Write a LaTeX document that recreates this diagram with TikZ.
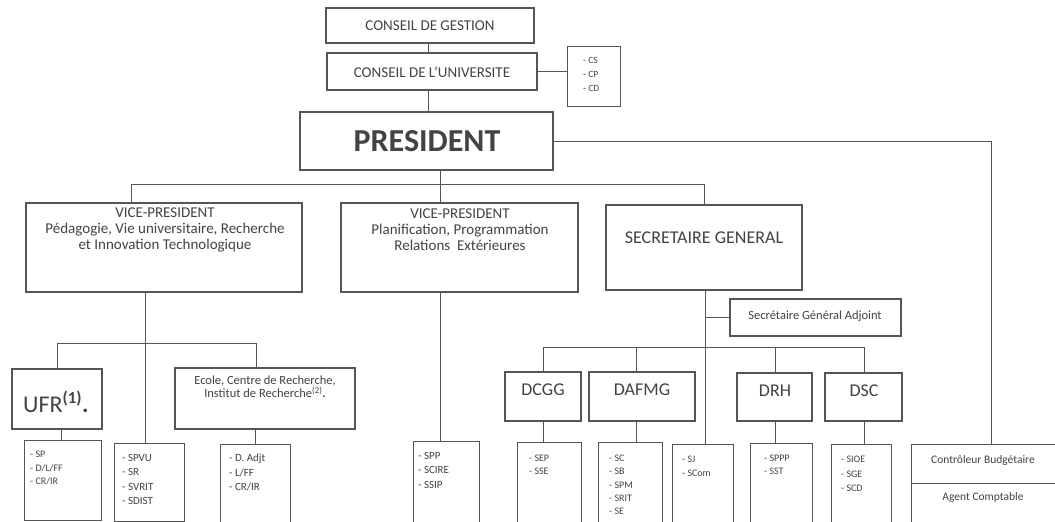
\documentclass[tikz,border=0pt]{standalone}
\usepackage{fontspec}
\setmainfont{Carlito}
\usetikzlibrary{fit}
\definecolor{ink}{HTML}{434343}
\definecolor{ln}{HTML}{555555}
\newcommand\fsz[2]{\fontsize{#1}{#2}\selectfont}
\newcommand\bx[6][box]{\node[#1,fit={(#3,#4) (#5,#6)}] (#2) {};}
\begin{document}
\begin{tikzpicture}[x=1pt,y=-1pt,
  box/.style={draw=ln,line width=1.2pt,inner sep=0pt,rectangle},
  sbox/.style={draw=ln,line width=1pt,inner sep=0pt,rectangle},
  conn/.style={draw=ln,line width=1pt},
  txt/.style={text=ink,inner sep=0pt,align=center},
  ltxt/.style={text=ink,inner sep=0pt,align=left,anchor=north west}]
\useasboundingbox (0,0) rectangle (1055,522);
\clip (0,0) rectangle (1055,522);
\fill[white] (0,0) rectangle (1055,522);
% ---------- boxes
\bx{cg}{326}{8}{534}{43}
\bx{cu}{327}{53}{537}{90}
\bx[sbox]{cs}{567}{46}{620}{106}
\bx{pres}{300}{112}{553}{170}
\bx{vp1}{26}{203}{302}{292}
\bx{vp2}{341}{203}{578}{292}
\bx{sg}{606}{205}{802}{290}
\bx{sga}{730}{299}{901}{336}
\bx{ufr}{12}{369}{102}{429}
\bx{ecole}{175}{368}{355}{429}
\bx{dcgg}{505}{372}{581}{421}
\bx{dafmg}{589}{372}{695}{421}
\bx{drh}{737}{373}{812}{421}
\bx{dsc}{825}{373}{902}{421}
\bx[sbox]{ufrs}{24}{440}{101}{520}
\bx[sbox]{spvu}{114}{443}{184}{521}
\bx[sbox]{ecs}{220}{444}{290}{524}
\bx[sbox]{spp}{413}{441}{479}{527}
\bx[sbox]{dcggs}{517}{442}{581}{527}
\bx[sbox]{dafmgs}{598}{442}{662}{527}
\bx[sbox]{sj}{672}{444}{733}{527}
\bx[sbox]{drhs}{750}{443}{812}{527}
\bx[sbox]{dscs}{831}{444}{891}{527}
\bx[sbox]{ctrl}{911}{444}{1058}{483}
\bx[sbox]{agent}{911}{483}{1058}{527}
% ---------- texts
\node[txt,font=\fsz{15}{15}] (cg-t) at (430,26) {CONSEIL DE GESTION};
\node[txt,font=\fsz{15}{15}] (cu-t) at (432,72) {CONSEIL DE L’UNIVERSITE};
\node[ltxt,font=\fsz{9.5}{14}] (cs-t) at (583,57) {- CS\\- CP\\- CD};
\node[txt,font=\fsz{32}{32}\bfseries] (pres-t) at (427,141) {PRESIDENT};
\node[txt,font=\fsz{15}{16}] (vp1-t) at (165,230) {VICE-PRESIDENT\\Pédagogie, Vie universitaire, Recherche\\et Innovation Technologique};
\node[txt,font=\fsz{15}{16}] (vp2-t) at (460,230) {VICE-PRESIDENT\\Planification, Programmation\\Relations \ Extérieures};
\node[txt,font=\fsz{18}{18}] (sg-t) at (704,238) {SECRETAIRE GENERAL};
\node[txt,font=\fsz{12.5}{12.5}] (sga-t) at (815,316) {Secrétaire Général Adjoint};
\node[txt,font=\fsz{24}{24},anchor=west] (ufr-t) at (23,402) {UFR\textsuperscript{\textbf{(1)}}\textbf{.}};
\node[txt,font=\fsz{12.5}{13}] (ecole-t) at (265,387) {Ecole, Centre de Recherche,\\Institut de Recherche\textsuperscript{(2)}\textbf{.}};
\node[txt,font=\fsz{18}{18}] (dcgg-t) at (543,390) {DCGG};
\node[txt,font=\fsz{18}{18}] (dafmg-t) at (642,390) {DAFMG};
\node[txt,font=\fsz{18}{18}] (drh-t) at (775,391) {DRH};
\node[txt,font=\fsz{18}{18}] (dsc-t) at (864,391) {DSC};
\node[ltxt,font=\fsz{10}{13.5}] (ufrs-t) at (30,451) {- SP\\- D/L/FF\\- CR/IR};
\node[ltxt,font=\fsz{11}{14.5}] (spvu-t) at (122,454) {- SPVU\\- SR\\- SVRIT\\- SDIST};
\node[ltxt,font=\fsz{11}{14.5}] (ecs-t) at (229,454) {- D. Adjt\\- L/FF\\- CR/IR};
\node[ltxt,font=\fsz{11}{14.5}] (spp-t) at (418,452) {- SPP\\- SCIRE\\- SSIP};
\node[ltxt,font=\fsz{10}{13}] (dcggs-t) at (529,455) {- SEP\\- SSE};
\node[ltxt,font=\fsz{10}{13.3}] (dafmgs-t) at (609,455) {- SC\\- SB\\- SPM\\- SRIT\\- SE};
\node[ltxt,font=\fsz{10}{14}] (sj-t) at (682,456) {- SJ\\- SCom};
\node[ltxt,font=\fsz{10}{13}] (drhs-t) at (764,455) {- SPPP\\- SST};
\node[ltxt,font=\fsz{10}{14.5}] (dscs-t) at (841,456) {- SIOE\\- SGE\\- SCD};
\node[txt,font=\fsz{11.5}{12}] (ctrl-t) at (983,460) {Contrôleur Budgétaire};
\node[txt,font=\fsz{11.5}{12}] (agent-t) at (983,497) {Agent Comptable};
% ---------- junction coordinates
\coordinate (k0) at (428,0);
\coordinate (kr) at (991,0);
\coordinate (kp) at (440,184);
\coordinate (kv1) at (131,184);
\coordinate (ksg) at (704,184);
\coordinate (kq) at (145,343);
\coordinate (ku) at (57,343);
\coordinate (ke) at (256,343);
\coordinate (kus) at (61,0);
\coordinate (kes) at (255,0);
\coordinate (ks) at (705,0);
\coordinate (kd1) at (543,347);
\coordinate (kd2) at (636,347);
\coordinate (kd3) at (775,347);
\coordinate (kd4) at (864,347);
% ---------- connectors
\draw[conn] (cg.south -| k0) -- (cu.north -| k0);
\draw[conn] (cu.south -| k0) -- (pres.north -| k0);
\draw[conn] (cu.east) -- (cs.west |- cu.east);
\draw[conn] (pres.east) -| (ctrl.north -| kr);
\draw[conn] (pres.south -| kp) -- (vp2.north -| kp);
\draw[conn] (vp1.north -| kv1) -- (kv1) -- (ksg) -- (sg.north -| ksg);
\draw[conn] (vp1.south -| kq) -- (spvu.north -| kq);
\draw[conn] (ufr.north -| ku) -- (ku) -- (ke) -- (ecole.north -| ke);
\draw[conn] (ufr.south -| kus) -- (ufrs.north -| kus);
\draw[conn] (ecole.south -| kes) -- (ecs.north -| kes);
\draw[conn] (vp2.south -| kp) -- (spp.north -| kp);
\draw[conn] (sg.south -| ks) -- (sj.north -| ks);
\draw[conn] (sga.west) -- (sga.west -| ks);
\draw[conn] (dcgg.north -| kd1) -- (kd1) -- (kd4) -- (dsc.north -| kd4);
\draw[conn] (dafmg.north -| kd2) -- (kd2);
\draw[conn] (drh.north -| kd3) -- (kd3);
\draw[conn] (dcgg.south -| kd1) -- (dcggs.north -| kd1);
\draw[conn] (dafmg.south -| kd2) -- (dafmgs.north -| kd2);
\draw[conn] (drh.south -| kd3) -- (drhs.north -| kd3);
\draw[conn] (dsc.south -| kd4) -- (dscs.north -| kd4);
\end{tikzpicture}
\end{document}
